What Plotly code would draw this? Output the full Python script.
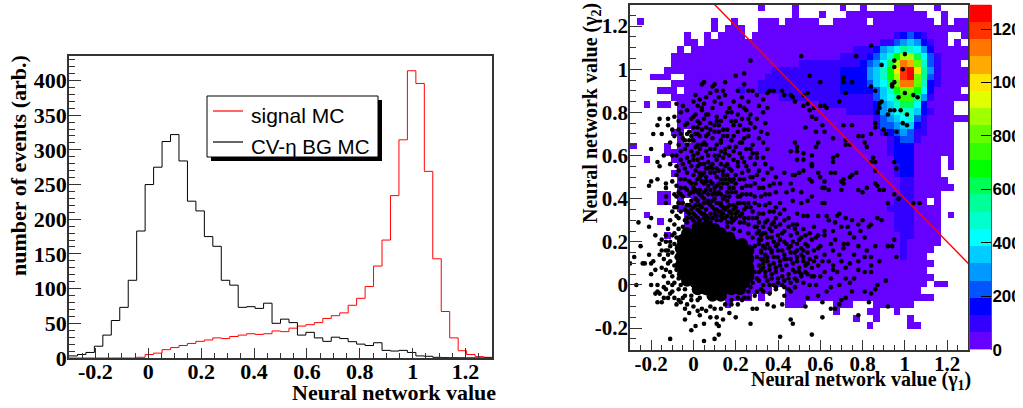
import plotly.graph_objects as go

W, H = 1015, 408
FONT_SERIF = "Liberation Serif"
FONT_SANS = "Liberation Sans"

bin_edges_start = -0.3
bin_width = 0.032
bg_mc = [3,5,8,17,33,54,73,112,183,250,275,312,322,284,226,212,175,161,112,105,73,74,71.5,79,50,56,51,33,37,29,24,30,28,23.5,20,18,22,11,10,11,8,3,2.5,1,0.5,0.4,0.3,0.2,0.1,0.1]
signal_mc = [0,0,0,0,0,0,0,0,1,5,7,12,15,18,21,24,26,29,28,31,33,35,34,35,39,38,43,46,48,51,57,61,65,76,86,103,132.5,170,234,314.5,414,395.7,269,143,67,29,10.5,5,2,1]

heat_levels = [
"...................0...."+"0......0..0....000...0....",
"........................"+"0...0...000000000000..0...",
".0..........0..0...000.0"+"0000..00000.000000000.0.00",
"............0.000..00000"+"00000000000000000000000000",
"........0..0.0000.000000"+"000000000000000"+"12321"+"000"+".."+"0",
"........00.0000000000000"+"0000000000000"+"11"+"34542"+"1"+"00"+"."+"0"+".",
".......0.000000000000000"+"000000000"+"111"+"245687642"+"00000",
"......000000000000000000"+"0000000"+"1111"+"2357add9631"+"0000",
"......000000000000000000"+"0"+"111111111"+"23469dhgc731"+"000"+".",
".....0000000000000000111"+"1111111"+"222"+"2457afijf841"+"0000",
"...000..0000000000001111"+"1111111"+"222"+"2457adijc831"+"0000",
"......000000000000011111"+"1111111"+"222"+"23569chhc721"+"0000",
"....000.0000000010011111"+"1111111"+"222"+"22357acca620"+"000"+".",
"......000000000000000011"+"1111111"+"111"+"113568bb8410"+"0000",
"..0.00.00000000000000000"+"0000"+"1111111"+"1245799620"+"000"+"..",
".......00000000000000000"+"00000000"+"111"+"1245677521"+"000"+"..",
".......00000000000000000"+"000000000000"+"13456731"+"000000",
".......00000000000000000"+"000000000000"+"13345521"+"0000"+"..",
"......00.000000000000000"+"0000000000000"+"1234311"+"0000"+"..",
".......0.000000000000000"+"00000000000000"+"12331"+"00000"+"..",
"0....0.00000000000000000"+"00000000000000"+"12220"+"00000"+"..",
".....0000000000000000000"+"00000000000000"+"1222"+"000000"+"..",
"..0...000000000000000000"+"000000000000000"+"222"+"0000"+"."+"0"+"..",
".......00000000000000000"+"000000000000000"+"122"+"0000"+"."+"0"+"..",
"......000000000000000000"+"000000000000000"+"122"+"0000"+"....",
".......00000000000000000"+"000000000000000"+"011"+"0000"+"0"+"...",
".......00000000000000000"+"000000000000000"+"011"+"000000"+"..",
"....00.00000000000000000"+"000000000000000"+"011"+"0000"+"....",
"....00.0.000000000000000"+"000000000000000"+"111"+"00"+"."+"0"+"....",
".......00000000000000000"+"00000000000000"+"1111"+"0000"+"....",
"..0.....0000000000000000"+"000000000000000"+"111"+"0000"+"."+"0"+"..",
"....0...0000000000000000"+"000000000000000"+"111"+"0000"+"....",
"........0000000000000000"+"000000000000000"+"111"+"0000"+"....",
".....0..0000000000000000"+"0000000000000000"+"11"+"0000"+"....",
".......00000000000000000"+"0000000000000000"+"10"+"0000"+"....",
".......00000000000000000"+"0000000000000000"+"10"+"000"+".....",
"........0000000000000000"+"0000000000000000"+"10"+"00"+"......",
"........0000000000000000"+"000000000000000000"+"000"+".....",
"........0000000000000000"+"000000000000000000"+"00"+"......",
".........000000000000000"+"000000000000000000"+"000"+".....",
".........000000000000000"+"000000000000000000"+"00"+"."+"00"+"...",
"..........00000000000..0"+"000000000000000000"+"0"+".......",
"..............0000.0...0"+"000000000000000000"+"000"+".....",
"..............0........0"+"00....000...000000........",
"........................"+"......0....00..0..........",
"........................"+".........0..0....0........",
"........................"+"...........0.....00.......",
"."*50,
"."*50,
"."*50,
]
LEVEL_CHARS = "0123456789abcdefghij"
LEVEL_STEP = 64.6
palette = ["#6600ff","#3300ff","#0000ff","#0055ff","#0099ff","#00ccff","#00ffff","#00ffcc","#00ff99","#00ff55",
           "#00ff00","#33ff00","#66ff00","#a0ff00","#e0ff00","#ffe600","#ffaa00","#ff7700","#ff3300","#ff0000"]
colorbar_levels = list(range(20))
colorbar_ticks = [0, 200, 400, 600, 800, 1000, 1200]

# (x, y) in hundredths
dot_points = [
# sparse top of the cloud
(27,104),(24,98),(20,97),(15,94),(5,94),(4,93),(9,92),(10,93),(11,90),(14,90),(24,93),(21,90),(26,90),(28,90),(36,90),(38,90),(42,90),(35,89),(46,88),(43,88),
# left fringe
(-19,70),(-16,77),(-17,74),(-15,70),(-12,77),(-12,74),(-10,72),(-20,63),(-14,60),(-10,60),(-11,56),(-17,57),(-16,55),(-17,49),(-20,48),(-21,46),(-13,47),(-10,48),(-13,45),(-6,45),(-13,41),(-13,38),(-7,38),(-6,42),(-3,70),(-4,67),
(-26,29),(-21,27),(-20,31),(-18,23),(-25,18),(-21,14),(-28,13),(-30,10),(-24,10),(-23,10),(-20,10),(-19,11),(-16,14),(-15,16),(-16,19),(-13,20),(-27,0),(-20,5),(-18,7),(-20,0),(-17,0),(-17,-3),(-18,-4),(-16,-4),(-17,-8),(-15,-8),(-14,4),(-15,8),(-12,10),(-13,-2),(-11,-4),
(-12,14),(-14,12),(-11,18),(-13,16),(-10,23),(-12,26),(-9,28),(-11,30),(-8,32),(-10,34),(-13,7),(-12,1),(-14,-1),(-10,0),(-10,-3),(-9,-6),(-12,-6),(-7,-7),(-14,-6),(-13,23),(-15,21),(-9,36),(-8,41),
# edge of the solid centre
(-9,24),(-7,26),(-11,20),(-9,19),(-12,16),(-10,15),(-8,13),(-11,11),(-9,9),(-11,6),(-8,7),(-10,4),(-7,3),(-9,1),(-6,0),(-7,-2),(-4,-2),(-4,-5),(-1,-5),(2,-7),(-5,27),(-3,29),(-8,22),
(31,21),(29,18),(32,16),(30,13),(33,12),(31,9),(32,7),(29,6),(30,3),(28,1),(27,-1),(26,-3),(24,-6),(21,-6),(18,-7),(3,-6),(16,27),(19,26),(22,25),(26,24),(28,22),(30,24),(18,31),(9,31),(13,32),
# bottom fringe
(-8,-9),(-6,-8),(-4,-11),(-4,-16),(1,-19),(-1,-21),(-11,-25),(5,-26),(10,-25),(12,-23),(5,-18),(11,-18),(12,-19),(8,-15),(11,-15),(14,-16),(17,-13),(20,-15),(27,-18),(41,-24),(46,-16),(47,-18),(28,-11),(30,-11),(42,-9),(38,-10),(35,-9),
(-3,-9),(0,-10),(2,-12),(4,-11),(6,-12),(8,-10),(10,-11),(13,-11),(15,-9),(18,-9),(21,-9),(23,-7),(26,-6),(29,-5),(-5,-6),(-1,-7),(33,-3),(36,-4),(39,-2),(43,-5),(46,-3),(-2,-13),(3,-14),
# dense upper field
(1,88),(3,86),(6,87),(8,89),(12,87),(15,88),(19,85),(23,87),(26,85),(30,88),(33,86),(-8,84),(-5,83),(2,83),(5,84),(9,82),(13,84),(17,82),(22,83),(25,81),(31,83),(35,82),
(-6,80),(-3,81),(1,79),(4,81),(7,79),(11,78),(16,80),(21,79),(27,79),(30,77),(33,80),(-9,78),(-7,76),(-1,77),(2,76),(5,77),(8,75),(13,76),(18,76),(23,77),(27,75),(34,75),
(-4,74),(0,73),(3,75),(6,73),(10,74),(14,72),(19,74),(24,72),(29,73),(32,71),(-7,72),(-2,71),(1,70),(4,72),(7,70),(12,71),(16,69),(21,71),(26,69),(31,68),(35,70),
(-9,69),(-5,68),(0,67),(3,69),(5,66),(9,68),(13,66),(18,67),(23,66),(28,65),(33,66),(-11,66),(-3,65),(1,64),(4,65),(8,63),(11,65),(15,63),(20,64),(25,63),(30,61),(35,63),
(-6,62),(-1,62),(2,61),(6,62),(10,60),(13,62),(17,60),(22,61),(27,59),(33,59),(-8,60),(-3,59),(0,58),(4,59),(7,57),(11,58),(14,59),(16,56),(19,58),(24,57),(29,56),(34,56),
(-5,56),(-1,55),(3,56),(6,54),(9,56),(12,53),(15,55),(18,53),(21,55),(26,53),(31,53),(37,54),(-7,53),(-3,52),(1,53),(4,51),(8,52),(11,50),(14,51),(17,49),(20,51),(24,49),(28,50),(33,49),(39,50),(43,52),
(-6,49),(-2,48),(2,49),(5,47),(8,48),(11,46),(14,47),(17,45),(20,47),(23,45),(27,46),(31,45),(36,46),(41,47),(46,47),(-8,46),(-4,45),(0,45),(3,44),(6,44),(9,42),(12,43),(15,41),(18,43),(21,41),(25,42),(29,41),(34,42),(39,43),(44,43),
(-9,42),(-5,41),(-2,42),(1,40),(4,41),(7,39),(10,40),(13,38),(16,39),(19,37),(22,38),(26,38),(31,37),(36,38),(41,38),(47,39),(-7,38),(-3,37),(0,36),(3,37),(6,35),(9,36),(12,34),(15,35),(18,33),(21,34),(24,35),(28,34),(33,33),(38,34),(43,35),
(-6,34),(-2,33),(1,32),(4,33),(7,31),(11,32),(15,31),(20,31),(24,31),(28,31),(31,29),(35,30),(39,31),(45,31),(49,33),(-4,30),(18,29),(22,29),(26,28),(29,27),(33,27),(37,28),(41,28),(47,28),
# the darkest band above the solid centre
(0,43),(3,42),(7,42),(10,43),(13,42),(16,43),(1,37),(4,36),(7,38),(10,35),(13,37),(16,36),(19,35),(-2,37),(0,33),(3,34),(6,30),(10,33),(13,34),(16,32),(19,30),(22,32),(-3,34),(-1,31),(2,31),(5,31),(8,29),(11,30),(14,31),(24,29),
(2,55),(5,52),(8,55),(11,54),(14,53),(6,48),(9,47),(12,47),(15,49),(18,48),(-1,47),(3,50),(7,54),(1,44),(12,38),(21,38),(25,36),(22,41),(-1,43),(5,40),(9,39),
# dense lower field, right of the core
(31,25),(34,24),(37,25),(40,23),(43,25),(46,23),(49,24),(52,26),(55,24),(32,21),(35,22),(38,20),(41,21),(44,19),(47,20),(50,21),(53,19),(56,21),(59,23),
(33,18),(36,17),(39,18),(42,16),(45,17),(48,15),(51,17),(54,15),(57,16),(60,18),(34,14),(37,15),(40,13),(43,14),(46,12),(49,13),(52,11),(55,12),(58,13),(61,11),
(32,12),(35,11),(38,10),(41,11),(44,9),(47,10),(50,8),(53,9),(56,8),(59,9),(33,8),(36,7),(39,6),(42,7),(45,5),(48,6),(51,4),(54,5),(57,4),(34,4),(37,3),(40,3),(43,2),(46,1),(49,2),(52,1),(55,0),
(31,2),(33,0),(36,0),(39,-1),(42,0),(45,-2),(48,-1),(30,-3),(32,-2),
# second pass through the busiest parts of the field
(0,85),(4,82),(10,85),(18,80),(24,82),(0,78),(6,79),(11,76),(15,78),(20,76),(26,77),(-3,75),(2,73),(8,72),(12,74),(16,72),(22,74),(26,72),(-6,70),(-1,69),(2,70),(6,69),(10,71),(14,69),(19,69),(24,68),
(-7,65),(-2,67),(2,65),(6,65),(10,63),(13,67),(17,64),(22,66),(27,63),(-4,63),(0,60),(3,63),(7,60),(12,60),(15,61),(19,62),(23,59),(28,61),(-6,58),(-2,57),(2,58),(5,56),(9,54),(13,56),(17,54),(21,57),(25,55),(30,59),
(-8,55),(-4,54),(0,51),(3,52),(6,50),(10,52),(13,49),(16,51),(19,49),(23,52),(27,50),(30,51),(35,52),(-8,51),(-4,49),(1,47),(4,48),(7,46),(10,45),(13,45),(16,47),(19,45),(22,49),(25,46),(29,47),(33,45),(38,47),
(-7,43),(-3,44),(2,43),(5,43),(8,44),(11,42),(14,40),(17,41),(20,43),(23,42),(27,42),(32,41),(36,42),(-5,38),(-1,39),(2,39),(5,38),(8,37),(11,38),(14,36),(17,37),(20,36),(24,38),(29,38),(34,37),(39,36),
(-8,36),(-4,35),(-1,35),(2,35),(5,33),(8,33),(11,35),(14,33),(17,34),(20,33),(23,33),(27,36),(31,33),(36,34),(41,33),(-7,31),(-3,31),(0,30),(3,30),(6,32),(9,31),(13,30),(16,29),(26,31),(30,31),(34,29),(38,29),(43,30),
(30,27),(33,24),(36,26),(39,27),(42,24),(45,27),(48,26),(51,22),(32,23),(35,19),(37,22),(40,19),(43,20),(46,18),(49,19),(52,16),(31,19),(34,17),(37,16),(40,16),(43,12),(46,15),(49,11),(51,14),(54,10),(32,15),(35,13),(38,13),(41,9),(44,12),(47,7),(50,6),(53,6),(33,10),(36,9),(39,8),(42,4),(45,3),(48,3),(31,6),(34,6),(37,5),(40,1),(43,-1),(35,2),(38,0),
# thin right side
(84,111),(51,106),(100,107),(95,104),(89,102),(95,101),(77,106),(99,100),(94,93),(95,94),(94,92),(84,92),(86,90),(100,89),(104,88),(106,87),(97,87),(89,85),(88,84),(88,82),(93,81),(95,81),(98,81),(101,79),(87,80),(92,79),(99,75),(101,74),(86,75),(86,73),(90,72),(91,70),(96,71),(84,70),(80,69),(78,69),(81,66),(82,64),
(71,94),(71,96),(75,94),(72,89),(69,85),(60,94),(55,97),(54,89),(52,88),(47,87),(48,85),(52,83),(54,84),(55,81),(57,82),(60,83),(62,83),(63,82),(56,78),(58,77),(61,74),(53,73),(58,71),(62,71),(71,74),(75,74),(66,68),(72,67),(74,65),(72,65),(48,66),(49,64),(59,66),(58,64),(46,62),(49,62),(52,61),(56,60),(49,58),(52,58),(66,59),(68,60),(66,57),(56,56),(56,55),(85,59),(84,57),(86,57),(95,57),(96,54),(86,53),(77,52),(74,50),(75,51),(71,49),(70,48),(71,47),(65,52),(67,52),(59,52),(52,53),(50,52),(48,51),(47,51),(55,49),(56,48),(60,50),(62,48),(62,45),(61,45),(47,44),(51,43),(56,41),(64,44),(70,44),(78,44),(80,43),(82,45),(86,47),(87,46),(88,44),(90,44),(95,42),(97,40),(92,38),(104,38),(107,38),(62,38),(61,38),(54,39),(51,38),
(52,32),(54,32),(59,32),(63,32),(68,32),(69,33),(72,31),(75,30),(80,30),(87,31),(89,30),(83,27),(84,28),(78,28),(73,27),(66,25),(62,25),(57,27),(49,28),(53,23),(58,22),(62,23),(67,21),(71,19),(76,22),(81,22),(95,21),(92,18),(94,18),(86,18),(96,13),(84,13),(81,13),(76,14),(71,17),(65,19),(59,17),(54,18),(49,16),(52,13),(57,11),(62,14),(66,9),(70,11),(74,10),(78,11),(84,9),(88,11),(91,2),(81,6),(84,6),(76,3),(72,3),(66,7),(65,3),(62,6),(56,4),(51,5),(58,0),(65,-1),(74,1),(87,0),(86,-2),(84,-4),(81,-3),(75,-3),(72,-6),(70,-7),(69,-9),(67,-11),(65,-11),(83,-8),(92,-10),(78,-14),(61,-15),(56,-23),(61,-8),(53,-10),(54,-6),
(64,30),(67,29),(70,27),(74,24),(79,25),(66,16),(69,14),(73,19),(78,18),(82,16),(64,11),(68,6),(72,8),(78,7),(60,4),(69,0),(63,-3),(59,-5),
]
# the solid black centre of the dot cloud (hundredths), painted with wider dots
dot_core = [
(2,27),(6,27),(10,26),(-3,24),(1,24),(5,24),(9,24),(13,24),(17,22),
(-5,21),(-1,21),(3,21),(7,21),(11,21),(15,20),(19,19),(23,19),
(-6,17),(-2,17),(2,17),(6,17),(10,17),(14,17),(18,16),(22,16),(26,16),
(-6,13),(-2,13),(2,13),(6,13),(10,13),(14,13),(18,13),(22,13),(26,12),
(-6,9),(-2,9),(2,9),(6,9),(10,9),(14,9),(18,9),(22,9),(26,8),
(-5,5),(-1,5),(3,5),(7,5),(11,5),(15,5),(19,5),(23,5),(26,4),
(-3,2),(1,1),(5,1),(9,1),(13,1),(17,1),(21,1),(24,1),
(2,-2),(6,-2),(10,-2),(14,-2),(18,-2),(22,-2),(9,-5),(13,-5),
]
cut_line_x = [0.1, 1.3]
cut_line_y = [1.3, 0.1]

x_centers = [bin_edges_start + bin_width * i for i in range(51)]
heat_cx = [bin_edges_start + bin_width * (i + 0.5) for i in range(50)]
heat_cy = [1.3 - bin_width * (i + 0.5) for i in range(50)]
heat_z = [[None if ch == "." else (LEVEL_CHARS.index(ch) + 0.5) * LEVEL_STEP for ch in row] for row in heat_levels]

colorscale = []
for i, col in enumerate(palette):
    colorscale.append([i / 20, col])
    colorscale.append([(i + 1) / 20, col])


def stairs(values):
    return x_centers, list(values) + [values[-1]]


fig = go.Figure()
# left panel
xs, ys = stairs(signal_mc)
fig.add_trace(go.Scatter(x=xs, y=ys, mode="lines", line=dict(color="#ff0000", width=1, shape="hv"),
                         name="signal MC", xaxis="x", yaxis="y", showlegend=False))
xs, ys = stairs(bg_mc)
fig.add_trace(go.Scatter(x=xs, y=ys, mode="lines", line=dict(color="#000000", width=1, shape="hv"),
                         name="CV-η BG MC", xaxis="x", yaxis="y", showlegend=False))
# right panel
fig.add_trace(go.Heatmap(x=heat_cx, y=heat_cy, z=heat_z, zmin=0, zmax=1292, colorscale=colorscale,
                         xaxis="x2", yaxis="y2", showscale=False, hoverongaps=False))
fig.add_trace(go.Scatter(x=[p[0] / 100 for p in dot_core], y=[p[1] / 100 for p in dot_core], mode="markers",
                         marker=dict(color="#000000", size=12), xaxis="x2", yaxis="y2", showlegend=False))
fig.add_trace(go.Scatter(x=[p[0] / 100 for p in dot_points], y=[p[1] / 100 for p in dot_points], mode="markers",
                         marker=dict(color="#000000", size=4.6), xaxis="x2", yaxis="y2", showlegend=False))
fig.add_trace(go.Scatter(x=cut_line_x, y=cut_line_y, mode="lines", line=dict(color="#ff0000", width=1.4),
                         xaxis="x2", yaxis="y2", showlegend=False))
# colour scale as its own small panel
fig.add_trace(go.Heatmap(x=[0], y=[(i + 0.5) * LEVEL_STEP for i in colorbar_levels],
                         z=[[(i + 0.5) * LEVEL_STEP] for i in colorbar_levels], zmin=0, zmax=1292,
                         colorscale=colorscale, xaxis="x3", yaxis="y3", showscale=False))

tick_font = dict(family=FONT_SERIF, size=22, color="#000000", weight="bold")
axis_common = dict(showgrid=False, zeroline=False, showline=True, mirror=True, linecolor="#333333", linewidth=1.5,
                   ticks="inside", tickcolor="#333333", tickfont=tick_font, automargin=False)
nn_ticks = [-0.2, 0, 0.2, 0.4, 0.6, 0.8, 1, 1.2]
nn_text = ["-0.2", "0", "0.2", "0.4", "0.6", "0.8", "1", "1.2"]
legend_box = dict(xref="paper", yref="paper", layer="above")
fig.update_layout(
    width=W, height=H, margin=dict(l=0, r=0, t=0, b=0), paper_bgcolor="white", plot_bgcolor="white",
    showlegend=False,
    xaxis=dict(axis_common, domain=[69 / W, 492 / W], range=[-0.3, 1.3], tickvals=nn_ticks,
               ticktext=nn_text, ticklen=10, anchor="y", ticklabelstandoff=-7,
               minor=dict(dtick=0.05, tick0=0, ticks="inside", ticklen=5, tickcolor="#333333")),
    yaxis=dict(axis_common, domain=[1 - 358 / H, 1 - 55.5 / H], range=[0, 436], dtick=50, ticklen=12, anchor="x", ticklabelstandoff=-4,
               minor=dict(dtick=10, ticks="inside", ticklen=6, tickcolor="#333333")),
    xaxis2=dict(axis_common, domain=[630 / W, 968.3 / W], range=[-0.3, 1.3], tickvals=nn_ticks,
                ticktext=nn_text, ticklen=10, anchor="y2", ticklabelstandoff=-6,
                tickfont=dict(tick_font, size=21),
                minor=dict(dtick=0.05, tick0=0, ticks="inside", ticklen=5, tickcolor="#333333")),
    yaxis2=dict(axis_common, domain=[1 - 349.7 / H, 1 - 4.5 / H], range=[-0.3, 1.3], tickvals=nn_ticks,
                ticktext=nn_text, ticklen=12, anchor="x2", ticklabelstandoff=-4,
                tickfont=dict(tick_font, size=21),
                minor=dict(dtick=0.05, tick0=0, ticks="inside", ticklen=6, tickcolor="#333333")),
    xaxis3=dict(domain=[970 / W, 991 / W], anchor="y3", visible=False, range=[-0.5, 0.5], automargin=False),
    yaxis3=dict(domain=[1 - 349.7 / H, 1 - 4.5 / H], anchor="x3", side="right", range=[0, 1292], tickvals=colorbar_ticks,
                ticks="inside", ticklen=10, tickcolor="#000000", tickwidth=1, showgrid=False, zeroline=False,
                showline=True, mirror=True, linecolor="#555555", linewidth=1, automargin=False, ticklabelstandoff=-3,
                tickfont=dict(family=FONT_SANS, size=17, color="#000000", weight="bold")),
    shapes=[
        dict(legend_box, type="rect", x0=211 / W, x1=382 / W, y0=1 - 161 / H, y1=1 - 100 / H, fillcolor="#000000", line=dict(width=0)),
        dict(legend_box, type="rect", x0=207 / W, x1=378 / W, y0=1 - 157 / H, y1=1 - 96 / H, fillcolor="#ffffff", line=dict(width=1, color="#000000")),
        dict(legend_box, type="line", x0=213 / W, x1=243 / W, y0=1 - 111 / H, y1=1 - 111 / H, line=dict(width=1.2, color="#ff0000")),
        dict(legend_box, type="line", x0=213 / W, x1=243 / W, y0=1 - 142 / H, y1=1 - 142 / H, line=dict(width=1.2, color="#000000")),
    ],
    annotations=[
        dict(text="signal MC", xref="paper", yref="paper", x=249 / W, y=1 - 115 / H, xanchor="left", yanchor="middle",
             showarrow=False, font=dict(family=FONT_SANS, size=21, color="#000000")),
        dict(text="CV-η BG MC", xref="paper", yref="paper", x=249 / W, y=1 - 146 / H, xanchor="left", yanchor="middle",
             showarrow=False, font=dict(family=FONT_SANS, size=20.5, color="#000000")),
        dict(text="Neural network value", xref="paper", yref="paper", x=498 / W, y=1 - 392 / H, xanchor="right", yanchor="middle",
             showarrow=False, font=dict(family=FONT_SERIF, size=22, color="#000000", weight="bold")),
        dict(text="number of events (arb.)", xref="paper", yref="paper", x=18 / W, y=1 - 166 / H, xanchor="center", yanchor="middle",
             textangle=-90, showarrow=False, font=dict(family=FONT_SERIF, size=22, color="#000000", weight="bold")),
        dict(text="Neural network value (γ<sub>1</sub>)", xref="paper", yref="paper", x=973 / W, y=1 - 380 / H, xanchor="right", yanchor="middle",
             showarrow=False, font=dict(family=FONT_SERIF, size=20, color="#000000", weight="bold")),
        dict(text="Neural network value (γ<sub>2</sub>)", xref="paper", yref="paper", x=591 / W, y=1 - 113 / H, xanchor="center", yanchor="middle",
             textangle=-90, showarrow=False, font=dict(family=FONT_SERIF, size=20, color="#000000", weight="bold")),
    ],
)
fig.write_html("out.html", config=dict(displayModeBar=False),
               post_script="document.body.style.margin='0';")
